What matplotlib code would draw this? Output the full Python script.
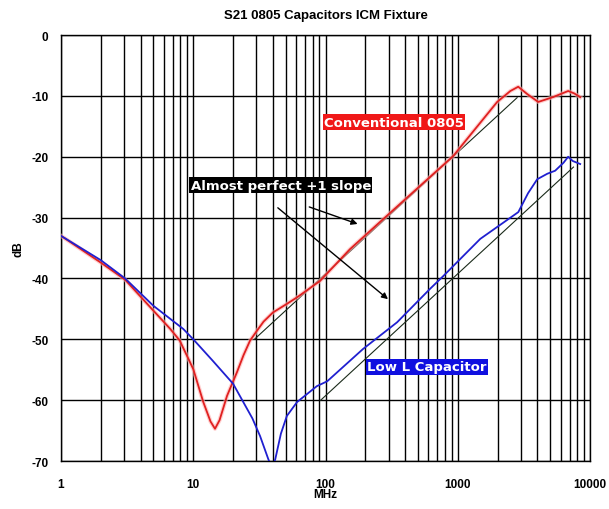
import numpy as np
import matplotlib
matplotlib.use("Agg")
import matplotlib.pyplot as plt
import matplotlib.ticker as ticker

plt.rcParams.update({
    "font.family": ["Liberation Sans", "DejaVu Sans"],
    "font.weight": "bold",
    "font.size": 8.5,
    "axes.unicode_minus": False,
})

# ── data (MHz, dB) ────────────────────────────────────────────────────
conv_f = [1, 2, 3.05, 5, 6.7, 7.9, 10, 11.9, 13.5, 14.6, 15.8, 18, 21.4, 24,
          26.9, 30.3, 34, 40, 50, 61, 91, 153, 259, 923, 1986, 2500, 2866,
          3350, 4060, 5260, 6840, 7600, 8430]
conv_db = [-33.0, -37.4, -40.2, -45.3, -48.3, -50.2, -54.9, -60.3, -63.5, -64.7,
           -63.3, -59.3, -55.4, -52.6, -50.2, -48.6, -47.1, -45.6, -44.3,
           -43.1, -40.4, -35.2, -30.7, -19.9, -11.0, -9.2, -8.5, -9.7, -11.0,
           -10.2, -9.2, -9.6, -10.2]

lowl_f = [1, 2, 3.05, 5, 8.4, 10, 14, 20, 28, 32, 36.8, 39, 41.6, 46, 51, 61,
          86, 103, 192, 348, 618, 778, 1480, 2870, 3400, 3990, 4750, 5450,
          6300, 6840, 7400, 8430]
lowl_db = [-33.0, -37.0, -40.0, -44.5, -48.3, -50.0, -53.5, -57.3, -63.0,
           -65.9, -69.6, -71.0, -69.8, -65.5, -62.6, -60.3, -57.7, -56.9,
           -51.6, -47.2, -41.7, -39.6, -33.5, -29.1, -26.0, -23.7, -22.8,
           -22.3, -21.0, -20.0, -20.7, -21.2]

# +1 slope reference lines
ref_conv_f, ref_conv_db = [29, 2810], [-50.0, -10.3]
ref_lowl_f, ref_lowl_db = [92, 7500], [-60.0, -21.7]

fig = plt.figure(figsize=(6.09, 5.10), dpi=100)
ax = fig.add_axes([0.1002, 0.0941, 0.8686, 0.8353])

ax.set_xscale("log")
ax.set_xlim(1, 10000)
ax.set_ylim(-70, 0)

# grid on every 1..9 of each decade, every 10 dB
ax.xaxis.set_major_locator(ticker.LogLocator(base=10, numticks=10))
ax.xaxis.set_minor_locator(ticker.LogLocator(base=10, subs=np.arange(2, 10), numticks=20))
ax.xaxis.set_minor_formatter(ticker.NullFormatter())
ax.xaxis.set_major_formatter(ticker.FuncFormatter(lambda v, p: f"{v:g}"))
ax.yaxis.set_major_locator(ticker.MultipleLocator(10))
ax.grid(True, which="both", axis="x", color="black", linewidth=1.0, zorder=1)
ax.grid(True, which="major", axis="y", color="black", linewidth=1.0, zorder=1)
ax.tick_params(which="both", length=0, labelsize=8.5)
ax.tick_params(axis="x", pad=12)
ax.tick_params(axis="y", pad=9)
for s in ax.spines.values():
    s.set_color("black")
    s.set_linewidth(1.0)

# curves
ax.plot(ref_conv_f, ref_conv_db, color="#1a2a1a", linewidth=0.8, zorder=3)
ax.plot(ref_lowl_f, ref_lowl_db, color="#1a2a1a", linewidth=0.8, zorder=3)
ax.plot(conv_f, conv_db, color="#ffb0b0", linewidth=3.0, alpha=0.6, zorder=3)
ax.plot(conv_f, conv_db, color="#e02020", linewidth=1.3, zorder=4)
ax.plot(lowl_f, lowl_db, color="#2020d0", linewidth=1.3, zorder=4)

ax.set_title("S21 0805 Capacitors ICM Fixture", fontsize=9.5, fontweight="bold", pad=12)
ax.set_xlabel("MHz", fontsize=8.5, fontweight="bold", labelpad=-1)
ax.set_ylabel("dB", fontsize=8.5, fontweight="bold", labelpad=5)

# labels
lab = dict(color="white", fontsize=9.5, fontweight="bold", family="DejaVu Sans",
           ha="center", va="center", zorder=6)
ax.text(330, -14.3, "Conventional 0805",
        bbox=dict(boxstyle="square,pad=0.1", fc="#f01818", ec="none"), **lab)
ax.text(587, -54.55, "Low L Capacitor",
        bbox=dict(boxstyle="square,pad=0.1", fc="#1010e0", ec="none"), **lab)
ax.text(46, -24.65, "Almost perfect +1 slope",
        bbox=dict(boxstyle="square,pad=0.1", fc="black", ec="none"), **lab)

arrow = dict(arrowstyle="-|>", color="black", lw=1.0, mutation_scale=9)
ax.annotate("", xy=(183, -31.2), xytext=(72, -28.1), arrowprops=arrow, zorder=5)
ax.annotate("", xy=(308, -43.7), xytext=(42, -28.1), arrowprops=arrow, zorder=5)

fig.savefig("out.png", dpi=100, facecolor="white")
